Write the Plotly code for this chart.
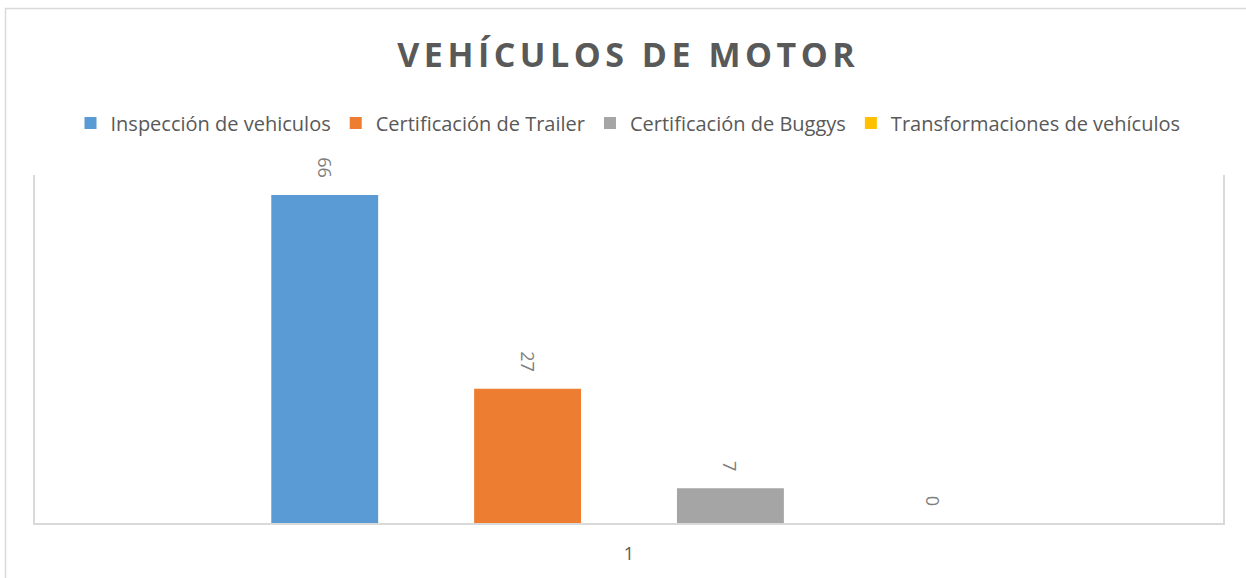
import plotly.graph_objects as go

categories = ["1"]
series_names = ["Inspección de vehiculos", "Certificación de Trailer",
                "Certificación de Buggys", "Transformaciones de vehículos"]
series_values = [[66], [27], [7], [0]]
series_colors = ["#5b9bd5", "#ed7d31", "#a5a5a5", "#ffc000"]
title_text = "VEHÍCULOS DE MOTOR"

W, H = 1246, 578
L, R, T, B = 35, 23, 175, 55
pw, ph = W - L - R, H - T - B
PAD = "\u00a0\u00a0\u00a0"

fig = go.Figure()
for name, vals, col in zip(series_names, series_values, series_colors):
    fig.add_trace(go.Bar(
        x=categories, y=vals, name=name, marker=dict(color=col, line=dict(width=0)),
        text=[str(v) for v in vals], texttemplate="%{text}" + PAD,
        textposition="outside", textangle=90,
        textfont=dict(family="Open Sans", size=18, color="#7f7f7f"),
        cliponaxis=False,
    ))

def px_x(x):
    return (x - L) / pw

def px_y(y):
    return (H - B - y) / ph

fig.update_layout(
    width=W, height=H,
    margin=dict(l=L, r=R, t=T, b=B),
    paper_bgcolor="white", plot_bgcolor="white",
    barmode="group", bargap=0.317, bargroupgap=0.473,
    title=dict(text=f"<b><span style='letter-spacing:4.5px'>{title_text}</span></b>",
               x=px_x(634), xanchor="center",
               y=1 - 55 / H, yanchor="middle", yref="container",
               font=dict(family="Open Sans", size=34, color="#595959")),
    legend=dict(orientation="h", x=px_x(628), xanchor="center", y=px_y(123), yanchor="middle",
                font=dict(family="Open Sans", size=20, color="#595959"),
                traceorder="normal", itemclick=False, itemwidth=30),
    xaxis=dict(showline=True, linecolor="#d9d9d9", linewidth=1.5, ticks="",
               ticklabelstandoff=14,
               tickfont=dict(family="Open Sans", size=18, color="#595959"), showgrid=False),
    yaxis=dict(range=[0, 70], showline=True, mirror=True, linecolor="#d9d9d9", linewidth=1.5,
               showticklabels=False, ticks="", showgrid=False, zeroline=False),
    shapes=[dict(type="rect", xref="paper", yref="paper",
                 x0=px_x(5.5), x1=px_x(1252), y0=px_y(584), y1=px_y(8.5),
                 line=dict(color="#d9d9d9", width=1.5), fillcolor="rgba(0,0,0,0)", layer="below")],
)

fig.write_html("out.html", config={"displayModeBar": False},
               post_script="document.body.style.margin='0';document.body.style.overflow='hidden';")
